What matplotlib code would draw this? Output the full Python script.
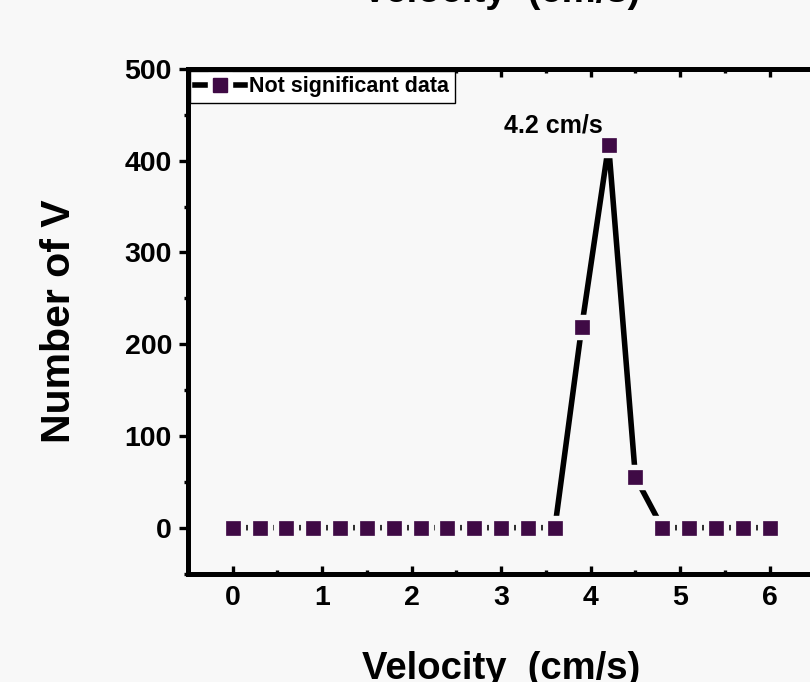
#!/usr/bin/env python3
# Velocity histogram: number of V against velocity, Origin-like style

import matplotlib
matplotlib.use("Agg")
import matplotlib.pyplot as plt
from matplotlib.lines import Line2D
from matplotlib.legend_handler import HandlerTuple

# Data
velocity = [0.0, 0.3, 0.6, 0.9, 1.2, 1.5, 1.8, 2.1, 2.4, 2.7, 3.0,
            3.3, 3.6, 3.9, 4.2, 4.5, 4.8, 5.1, 5.4, 5.7, 6.0]
counts = [0, 0, 0, 0, 0, 0, 0, 0, 0, 0, 0,
          0, 0, 219, 417, 55, 0, 0, 0, 0, 0]
x_ticks = [0, 1, 2, 3, 4, 5, 6]
y_ticks = [0, 100, 200, 300, 400, 500]
series_label = "Not significant data"
peak_label = "4.2 cm/s"
title_text = "Velocity  (cm/s)"
xlabel_text = "Velocity  (cm/s)"
ylabel_text = "Number of V"

# Style
BG = "#f8f8f8"
MARKER_COLOR = "#3f0a45"
LW = 4.0
plt.rcParams["font.family"] = ["Liberation Sans", "DejaVu Sans"]
plt.rcParams["font.weight"] = "bold"

fig = plt.figure(figsize=(8.1, 6.82), dpi=100, facecolor=BG)
ax = fig.add_axes([0.232, 0.159, 0.7735, 0.74])
ax.set_facecolor(BG)

# line, then a background-coloured mask to leave gaps around points, then markers
ax.plot(velocity, counts, color="black", lw=LW, zorder=2)
ax.plot(velocity, counts, ls="none", marker="s", ms=17.5, mfc=BG, mec=BG, zorder=3)
ax.plot(velocity, counts, ls="none", marker="s", ms=10.2, mfc=MARKER_COLOR,
        mec=MARKER_COLOR, mew=0.5, zorder=4)

ax.set_xlim(-0.5, 6.5)
ax.set_ylim(-50, 500)
ax.set_xticks(x_ticks)
ax.set_yticks(y_ticks)
ax.set_xticks([t + 0.5 for t in x_ticks], minor=True)
ax.set_yticks([t + 50 for t in [-100] + y_ticks[:-1]], minor=True)

for s in ax.spines.values():
    s.set_linewidth(3.6)
ax.tick_params(axis="x", which="major", direction="in", length=6, width=2.4,
               top=True, labelsize=20.5, pad=8)
ax.tick_params(axis="x", which="minor", direction="in", length=3, width=2.4, top=True)
ax.tick_params(axis="y", which="major", direction="out", length=6.5, width=2.4,
               labelsize=20.5, pad=5)
ax.tick_params(axis="y", which="minor", direction="out", length=3, width=2.4)
for lab in ax.get_xticklabels() + ax.get_yticklabels():
    lab.set_fontweight("bold")

# peak label
i_peak = counts.index(max(counts))
ax.annotate(peak_label, xy=(velocity[i_peak], counts[i_peak]), xytext=(-40, 14),
            textcoords="offset points", ha="center", va="center",
            fontsize=18, fontweight="bold")

# legend with the same gapped line
h_line = Line2D([], [], color="black", lw=LW)
h_mask = Line2D([], [], ls="none", marker="s", ms=17.5, mfc="white", mec="white")
h_mark = Line2D([], [], ls="none", marker="s", ms=10.2, mfc=MARKER_COLOR, mec=MARKER_COLOR)
leg = ax.legend([(h_line, h_mask, h_mark)], [series_label],
                handler_map={tuple: HandlerTuple(ndivide=1, pad=0)},
                loc="upper left", borderaxespad=0.1, fancybox=False,
                framealpha=1, edgecolor="black", handlelength=2.3,
                handletextpad=0.2, borderpad=0.25,
                prop={"size": 15.5, "weight": "bold"})
leg.get_frame().set_linewidth(1.0)
leg.set_zorder(5)

# titles, placed in figure pixels
fig.text(0.619, 0.997, title_text, ha="center", va="baseline",
         fontsize=27.5, fontweight="bold")
fig.text(0.619, 1 - 679 / 682, xlabel_text, ha="center", va="baseline",
         fontsize=27.5, fontweight="bold")
fig.text(59 / 810, 1 - 321 / 682, ylabel_text, ha="center", va="center",
         rotation=90, fontsize=29.5, fontweight="bold")

fig.savefig("out.png", dpi=100, facecolor=BG)
